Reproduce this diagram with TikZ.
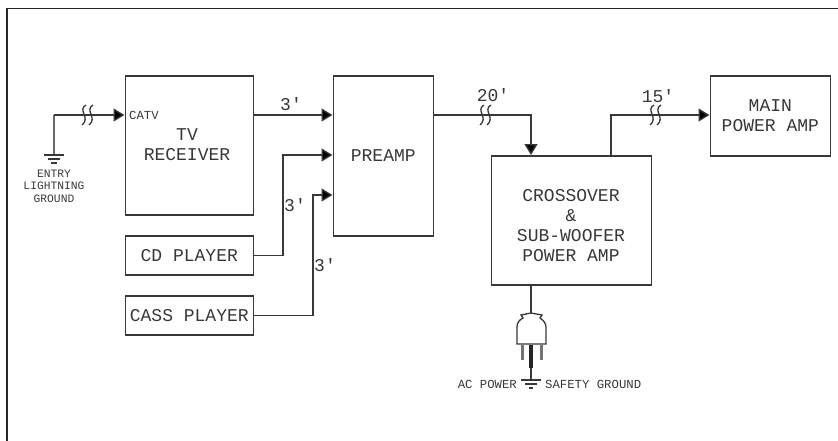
\documentclass[tikz,border=0pt]{standalone}
\usepackage{fontspec}
\setmainfont{Liberation Mono}
\usetikzlibrary{arrows.meta}
\definecolor{ink}{gray}{0.22}
\tikzset{
  x=1pt,y=-1pt,
  wire/.style={draw=ink,line width=1.4pt},
  arrowwire/.style={wire,-{Triangle[length=11pt,width=13pt,fill=black]}},
  blockbox/.style={draw=ink,line width=1.6pt,inner sep=0pt,align=center,font=\fontsize{18}{20}\selectfont,text=ink},
  biglabel/.style={inner sep=0pt,align=center,font=\fontsize{18}{20}\selectfont,text=ink},
  smalllabel/.style={inner sep=0pt,align=center,font=\fontsize{12.3}{13}\selectfont,text=ink},
  lenlabel/.style={inner sep=0pt,font=\fontsize{18}{20}\selectfont,text=ink},
  breakmark/.pic={
    \draw[draw=ink,line width=1.3pt] (-1,-10) .. controls (-10,-5) and (4,3) .. (-5,10);
    \draw[draw=ink,line width=1.3pt] (6,-10) .. controls (-3,-5) and (11,3) .. (2,10);
  },
}
\begin{document}
\begin{tikzpicture}
\useasboundingbox (0,0) rectangle (838,440);
\draw[draw=black!85,line width=1.5pt] (7,441) -- (7,8.5) -- (839,8.5);
% boxes
\node[blockbox,minimum width=128pt,minimum height=139pt,anchor=north west] (tv) at (124.5,75) {};
\node[biglabel] (tvtext) at (187,145) {TV\\RECEIVER};
\node[blockbox,minimum width=128pt,minimum height=39pt,anchor=north west] (cd) at (124.5,235) {CD PLAYER};
\node[blockbox,minimum width=128pt,minimum height=39pt,anchor=north west] (cass) at (124.5,295) {CASS PLAYER};
\node[blockbox,minimum width=100pt,minimum height=160pt,anchor=north west] (pre) at (332.5,75) {PREAMP};
\node[blockbox,minimum width=160pt,minimum height=129pt,anchor=north west] (cross) at (490.5,155) {};
\node[biglabel] (crosstext) at (571,226) {CROSSOVER\\\&\\SUB-WOOFER\\POWER AMP};
\node[blockbox,minimum width=120pt,minimum height=80pt,anchor=north west] (main) at (709.5,75) {MAIN\\POWER AMP};
% free ends
\coordinate (antenna) at (54,115);
\coordinate (gnd) at (54,155);
\coordinate (plugtop) at (531,313);
\coordinate (plugend) at (531,380);
% connectors
\draw[wire,line width=2.2pt,draw=ink!75] (antenna) -- (gnd);
\draw[arrowwire] (antenna) -- (tv.west|-antenna);
\draw[arrowwire] (tv.east|-antenna) -- (pre.west|-antenna);
\draw[arrowwire] (cd.east) -| (283,155) -- (pre.west|-0,155);
\draw[arrowwire] (cass.east) -| (313,195) -- (pre.west|-0,195);
\draw[arrowwire] (pre.east|-antenna) -| (cross.north-|plugtop);
\draw[arrowwire] (611,155) |- (main.west|-antenna);
\draw[wire] (cross.south-|plugtop) -- (plugtop);
% breaks
\pic at (87,115) {breakmark};
\pic at (485,115) {breakmark};
\pic at (655,115) {breakmark};
% grounds
\draw[wire] (44,155) -- (64,155) (48,159) -- (60,159) (51,163) -- (57,163);
\node[smalllabel,anchor=north,font=\fontsize{11.3}{12.3}\selectfont] (ent) at (54,170) {ENTRY\\LIGHTNING\\GROUND};
% plug
\draw[wire,line width=1.3pt,fill=white] (plugtop) -- (521,315) -- (523,318) .. controls (519,320) and (517,323) .. (517,327) -- (517,344) -- (546,344) -- (546,327) .. controls (546,323) and (543,320) .. (540,318) -- (542,315) -- cycle;
\draw[wire,line width=3pt,draw=ink!70] (522,345) -- (522,360) (541,345) -- (541,360);
\draw[wire,line width=4pt,draw=black!85] (531,345) -- (531,368);
\draw[wire] (531,368) -- (plugend);
\draw[wire] (521,380) -- (541,380) (525,384) -- (537,384) (529,388) -- (533,388);
% labels
\node[smalllabel,anchor=west] (catv) at (129,115) {CATV};
\node[smalllabel,anchor=east] (ac) at (517,384) {AC POWER};
\node[smalllabel,anchor=west] (safe) at (545,384) {SAFETY GROUND};
\node[lenlabel] (l1) at (291,104) {3\textquotesingle};
\node[lenlabel] (l2) at (295,205) {3\textquotesingle};
\node[lenlabel] (l3) at (325,265) {3\textquotesingle};
\node[lenlabel] (l4) at (493,95) {20\textquotesingle};
\node[lenlabel] (l5) at (658,96) {15\textquotesingle};
\end{tikzpicture}
\end{document}
